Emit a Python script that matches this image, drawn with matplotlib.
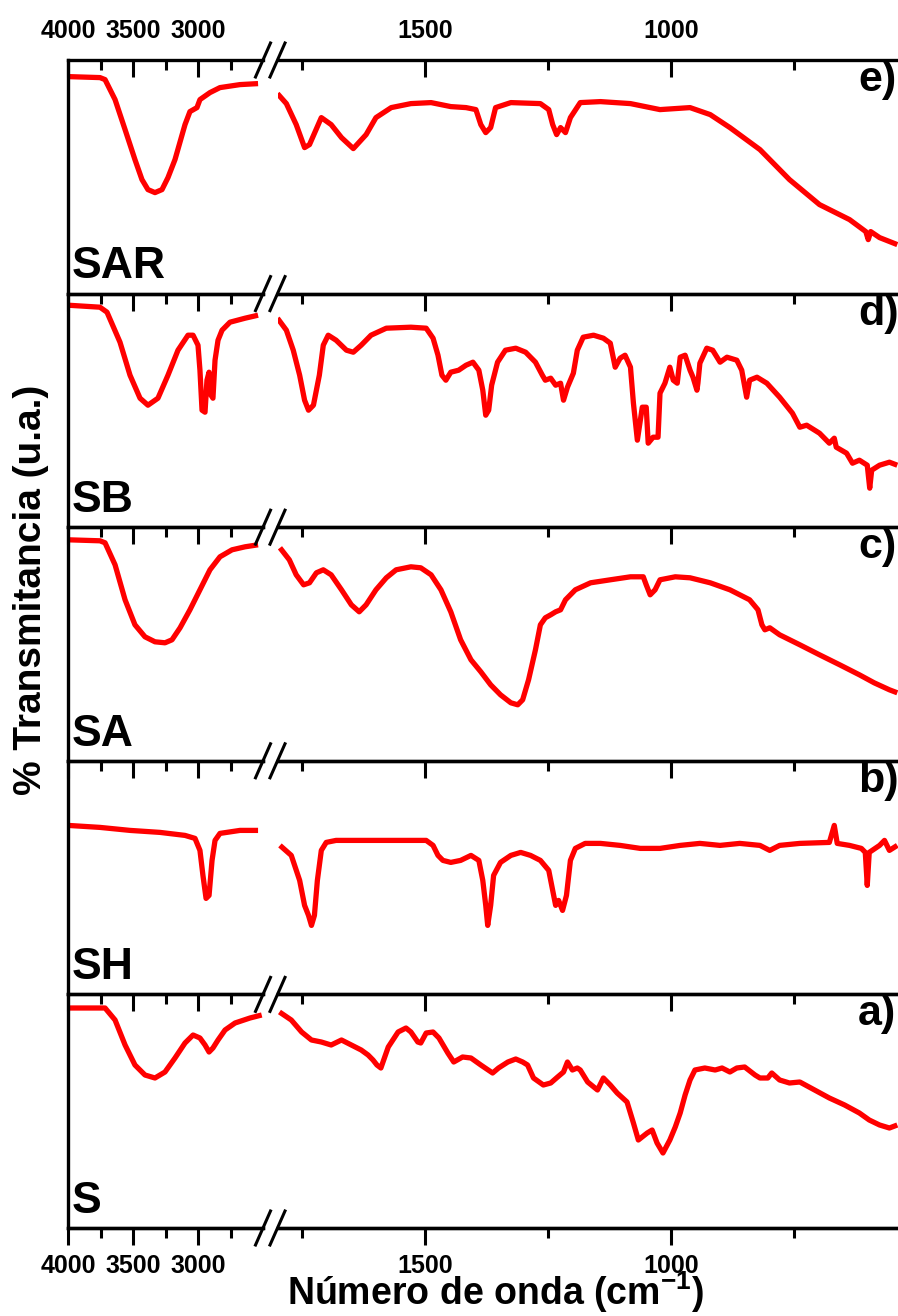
import matplotlib
matplotlib.use("Agg")
import matplotlib.pyplot as plt
from matplotlib.lines import Line2D
from matplotlib.ticker import FixedLocator, NullFormatter

plt.rcParams['font.family'] = ['Liberation Sans', 'DejaVu Sans']
plt.rcParams['font.weight'] = 'bold'
plt.rcParams['mathtext.fontset'] = 'custom'
plt.rcParams['mathtext.rm'] = 'Liberation Sans:bold'
plt.rcParams['mathtext.bf'] = 'Liberation Sans:bold'
plt.rcParams['mathtext.default'] = 'bf'

# ---------------- data (transmittance, arbitrary units) ----------------
# e) SAR
sar_hi_wn = [4000, 3754, 3715, 3638, 3561, 3485, 3431, 3385, 3331, 3277, 3231, 3177,
             3100, 3062, 3008, 2985, 2908, 2831, 2677, 2538]
sar_hi_t = [217, 216, 214, 194, 164, 134, 114, 104, 101, 104, 116, 134,
            169, 182, 186, 194, 201, 206, 209, 210]
sar_lo_wn = [1800, 1782, 1762, 1745, 1735, 1711, 1691, 1670, 1646, 1620,
             1600, 1569, 1529, 1488, 1448, 1417, 1397, 1387, 1377, 1367,
             1357, 1326, 1266, 1249, 1241, 1233, 1225, 1215, 1205, 1185,
             1144, 1083, 1023, 962, 921, 881, 820, 760, 699, 638,
             605, 600, 595, 577, 541]
sar_lo_t = [200, 190, 169, 146, 149, 176, 169, 156, 145, 159,
            176, 186, 190, 191, 187, 186, 184, 169, 161, 166,
            186, 191, 190, 184, 169, 159, 166, 161, 176, 191,
            192, 190, 184, 186, 179, 166, 144, 114, 89, 74,
            62, 54, 62, 56, 49]

# d) SB
sb_hi_wn = [4000, 3754, 3700, 3600, 3523, 3446, 3385, 3308, 3231, 3154, 3077, 3038, 3000,
            2985, 2969, 2946, 2931, 2915, 2900, 2885, 2869, 2846, 2815, 2754, 2638, 2538]
sb_hi_t = [222, 220, 215, 185, 152, 129, 122, 129, 152, 177, 192, 192, 182,
           157, 117, 115, 147, 155, 132, 129, 167, 187, 197, 205, 209, 212]
sb_lo_wn = [1800, 1782, 1768, 1755, 1745, 1737, 1727, 1715, 1707, 1697,
            1681, 1660, 1646, 1630, 1610, 1579, 1529, 1498, 1484, 1474,
            1466, 1458, 1448, 1432, 1417, 1403, 1391, 1383, 1377, 1371,
            1365, 1353, 1337, 1316, 1296, 1276, 1262, 1256, 1245, 1235,
            1225, 1219, 1211, 1199, 1191, 1179, 1158, 1138, 1124, 1114,
            1104, 1094, 1083, 1077, 1069, 1059, 1051, 1047, 1037, 1027,
            1023, 1013, 1003, 996, 988, 982, 972, 962, 956, 948,
            946, 942, 928, 916, 901, 887, 867, 857, 847, 841,
            826, 806, 780, 754, 739, 725, 699, 679, 669, 665,
            644, 632, 618, 602, 597, 593, 577, 557, 541]
sb_lo_t = [209, 197, 177, 152, 127, 117, 122, 152, 182, 192,
           187, 177, 175, 182, 192, 199, 200, 199, 189, 172,
           152, 147, 155, 157, 162, 165, 157, 137, 112, 117,
           142, 165, 177, 179, 175, 165, 152, 147, 149, 142,
           144, 127, 140, 154, 177, 190, 192, 189, 184, 160,
           169, 172, 160, 124, 87, 120, 120, 84, 90, 90,
           134, 144, 160, 147, 144, 170, 172, 157, 150, 137,
           144, 164, 179, 177, 165, 170, 167, 157, 130, 147,
           150, 144, 130, 114, 100, 102, 94, 84, 89, 80,
           74, 64, 67, 62, 39, 57, 62, 65, 62]

# c) SA
sa_hi_wn = [4000, 3754, 3715, 3638, 3561, 3485, 3408, 3331, 3254, 3200, 3138, 3062,
            2985, 2908, 2831, 2738, 2638, 2538]
sa_hi_t = [221, 220, 218, 196, 161, 136, 124, 119, 118, 121, 133, 151,
           171, 191, 204, 211, 214, 216]
sa_lo_wn = [1795, 1776, 1762, 1747, 1735, 1721, 1707,
            1691, 1670, 1650, 1634, 1620, 1600,
            1579, 1559, 1529, 1509, 1488, 1468, 1448, 1428, 1407, 1387,
            1367, 1347, 1326, 1312, 1302, 1290, 1276, 1266, 1256, 1245,
            1235, 1225, 1215, 1195, 1164, 1124, 1083, 1057, 1051, 1043,
            1033, 1023, 992, 962, 921, 881, 841, 824, 816, 810,
            800, 780, 739, 699, 658, 618, 588, 557, 541]
sa_lo_t = [213, 201, 186, 176, 178, 188, 191,
           186, 171, 156, 149, 156, 171,
           183, 191, 194, 193, 186, 171, 149, 121, 101, 89,
           76, 66, 58, 56, 61, 81, 111, 136, 143, 146,
           149, 151, 161, 171, 178, 181, 184, 184, 176, 166,
           171, 181, 184, 183, 178, 171, 161, 151, 136, 131,
           133, 126, 116, 106, 96, 86, 78, 71, 68]

# b) SH
sh_hi_wn = [4000, 3754, 3523, 3292, 3100, 3023, 2985, 2962, 2938, 2915, 2892, 2869,
            2831, 2677, 2538]
sh_hi_t = [169, 167, 164, 162, 159, 156, 144, 119, 96, 99, 134, 154,
           161, 164, 164]
sh_lo_wn = [1795, 1772, 1755, 1745, 1737, 1731, 1725, 1719, 1711, 1701,
            1681, 1630, 1549, 1498, 1484, 1474, 1464, 1448, 1428, 1407,
            1391, 1383, 1377, 1373, 1367, 1361, 1347, 1326, 1306, 1286,
            1266, 1249, 1241, 1235, 1229, 1221, 1213, 1205, 1195, 1175,
            1144, 1104, 1063, 1023, 982, 942, 901, 861, 820, 800,
            780, 739, 679, 669, 663, 638, 614, 606, 602, 598,
            577, 567, 557, 541]
sh_lo_t = [149, 139, 114, 89, 79, 69, 79, 114, 144, 152,
           154, 154, 154, 154, 149, 139, 134, 132, 134, 139,
           134, 114, 89, 69, 89, 119, 132, 139, 142, 139,
           134, 124, 104, 89, 94, 84, 99, 134, 146, 151,
           151, 149, 146, 146, 149, 151, 149, 151, 149, 144,
           149, 151, 152, 169, 151, 149, 146, 142, 109, 142,
           149, 154, 144, 149]

# a) S
s_hi_wn = [4000, 3715, 3638, 3561, 3485, 3408, 3331, 3254, 3177, 3100, 3038, 2985,
           2946, 2915, 2885, 2846, 2792, 2715, 2600, 2510]
s_hi_t = [220, 220, 208, 183, 163, 153, 150, 156, 170, 185, 193, 190,
          183, 176, 180, 188, 198, 205, 210, 213]
s_lo_wn = [1796, 1772, 1751, 1731, 1711, 1691, 1670, 1650, 1630, 1616,
           1606, 1598, 1590, 1575, 1555, 1539, 1529, 1515, 1509, 1498,
           1484, 1472, 1454, 1442, 1424, 1407, 1387, 1363, 1351, 1332,
           1316, 1302, 1292, 1280, 1260, 1245, 1231, 1219, 1211, 1201,
           1191, 1185, 1170, 1150, 1138, 1124, 1110, 1090, 1077, 1067,
           1049, 1039, 1029, 1017, 1003, 992, 982, 972, 962, 952,
           932, 911, 897, 881, 867, 851, 830, 820, 804, 796,
           780, 760, 739, 709, 679, 648, 618, 598, 577, 557,
           541]
s_lo_t = [216, 208, 196, 188, 186, 183, 188, 183, 178, 173,
          168, 163, 160, 181, 196, 200, 196, 186, 185, 195,
          196, 190, 175, 166, 171, 170, 163, 155, 160, 166,
          169, 166, 163, 150, 143, 145, 151, 156, 166, 158,
          160, 158, 146, 138, 150, 143, 135, 126, 105, 88,
          95, 98, 85, 75, 88, 101, 115, 133, 148, 158,
          160, 158, 160, 156, 160, 161, 153, 150, 150, 155,
          148, 145, 146, 138, 130, 123, 115, 108, 103, 100,
          103]

sample_names = ["SAR", "SB", "SA", "SH", "S"]
panel_letters = ["e)", "d)", "c)", "b)", "a)"]
high_wn = [sar_hi_wn, sb_hi_wn, sa_hi_wn, sh_hi_wn, s_hi_wn]
high_t = [sar_hi_t, sb_hi_t, sa_hi_t, sh_hi_t, s_hi_t]
low_wn = [sar_lo_wn, sb_lo_wn, sa_lo_wn, sh_lo_wn, s_lo_wn]
low_t = [sar_lo_t, sb_lo_t, sa_lo_t, sh_lo_t, s_lo_t]

left_major = [4000, 3500, 3000]
left_minor = [3750, 3250, 2750]
right_major = [1500, 1000]
right_minor = [1750, 1250, 750]

# ---------------- layout ----------------
W, H = 898, 1316
fig = plt.figure(figsize=(W / 100, H / 100), dpi=100)
fig.patch.set_facecolor("white")

top_px, bot_px = 60.0, 1228.0
ph = (bot_px - top_px) / 5
L0, L1 = 68.0, 263.0
R0, R1 = 277.5, 966.7
RED = "#ff0000"
SPW = 2.4


def style_axis(ax, major, minor):
    ax.xaxis.set_major_locator(FixedLocator(major))
    ax.xaxis.set_minor_locator(FixedLocator(minor))
    ax.tick_params(axis="x", which="both", direction="in", top=True, bottom=False,
                   labelbottom=False, labeltop=False, width=2.2, color="black")
    ax.tick_params(axis="x", which="major", length=12.5)
    ax.tick_params(axis="x", which="minor", length=7)
    ax.tick_params(axis="y", left=False, right=False, labelleft=False)
    for s in ax.spines.values():
        s.set_linewidth(SPW)


for i in range(5):
    y_top = top_px + i * ph
    yb = 1 - (y_top + ph) / H
    axL = fig.add_axes([L0 / W, yb, (L1 - L0) / W, ph / H])
    axR = fig.add_axes([R0 / W, yb, (R1 - R0) / W, ph / H])
    for ax in (axL, axR):
        ax.patch.set_visible(False)
        ax.set_ylim(0, ph)
    axL.set_xlim(4000, 2500)
    axR.set_xlim(1800, 400)
    axL.plot(high_wn[i], high_t[i], color=RED, lw=3.8, solid_joinstyle="round",
             solid_capstyle="butt")
    axR.plot(low_wn[i], low_t[i], color=RED, lw=3.8, solid_joinstyle="round",
             solid_capstyle="butt")
    style_axis(axL, left_major, left_minor)
    style_axis(axR, right_major, right_minor)
    axL.spines["right"].set_visible(False)
    axR.spines["left"].set_visible(False)
    axR.spines["right"].set_visible(False)

    axL.text(0.02, 0.065, sample_names[i], transform=axL.transAxes, fontsize=32,
             fontweight="bold", ha="left", va="baseline")
    axR.text((858 - R0) / (R1 - R0), 1.0, panel_letters[i], transform=axR.transAxes,
             fontsize=31, fontweight="bold", ha="left", va="top")

    if i == 0:
        for ax in (axL, axR):
            ax.tick_params(axis="x", which="major", labeltop=True, pad=12,
                           labelsize=18)
            for lab in ax.get_xticklabels():
                lab.set_fontweight("bold")
    if i == 4:
        for ax, mj, mn in ((axL, left_major, left_minor), (axR, right_major, right_minor)):
            sec = ax.secondary_xaxis("bottom")
            sec.xaxis.set_major_locator(FixedLocator(mj))
            sec.xaxis.set_minor_locator(FixedLocator(mn))
            sec.xaxis.set_minor_formatter(NullFormatter())
            sec.tick_params(axis="x", which="both", direction="out", width=2.2,
                            labelsize=18, pad=6)
            sec.tick_params(axis="x", which="major", length=12.5)
            sec.tick_params(axis="x", which="minor", length=7)
            sec.spines["bottom"].set_linewidth(SPW)
            for lab in sec.get_xticklabels():
                lab.set_fontweight("bold")

# break marks
for k in range(6):
    yb_px = top_px + k * ph
    for cx in (L1, R0):
        fig.add_artist(Line2D([(cx - 7.5) / W, (cx + 7.5) / W],
                              [1 - (yb_px + 17) / H, 1 - (yb_px - 17) / H],
                              transform=fig.transFigure, color="black", lw=2.2))

fig.text(31 / W, 1 - 590 / H, "% Transmitancia (u.a.)", rotation=90, ha="center",
         va="center", fontsize=28, fontweight="bold")
fig.text(287 / W, 1 - 1305 / H, r"Número de onda (cm$^{-1}$)", ha="left",
         va="baseline", fontsize=27, fontweight="bold")

fig.savefig("out.png", dpi=100, facecolor="white")
